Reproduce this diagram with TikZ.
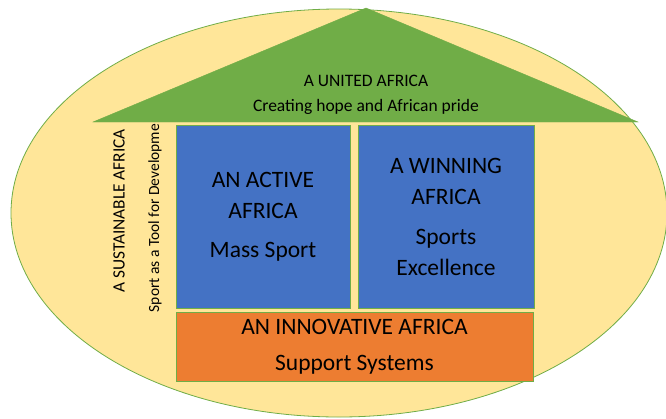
\documentclass[tikz,border=0pt]{standalone}
\usepackage{fontspec}
\setmainfont{Carlito}
\usepackage{xcolor}
\usetikzlibrary{positioning}
\definecolor{fieldyellow}{HTML}{FFE699}
\definecolor{roofgreen}{HTML}{70AD47}
\definecolor{pillarblue}{HTML}{4472C4}
\definecolor{baseorange}{HTML}{ED7D31}
\tikzstyle{field} = [draw=roofgreen, 
line width=0.8pt, 
fill=fieldyellow]
\tikzstyle{roof} = [draw=roofgreen, 
fill=roofgreen]
\tikzstyle{pillar} = [rectangle, 
minimum width=174pt, 
minimum height=183pt, 
align=center, 
draw=roofgreen, 
line width=1pt, 
fill=pillarblue, 
font=\fontsize{23.5}{31}\selectfont]
\tikzstyle{basebox} = [rectangle, 
minimum width=357pt, 
minimum height=69pt, 
align=center, 
draw=roofgreen, 
line width=1pt, 
fill=baseorange, 
font=\fontsize{23.5}{31}\selectfont]
\tikzstyle{sidetext} = [rotate=90, inner sep=0pt]

\begin{document}
\begin{tikzpicture}[x=1pt, y=-1pt]

  \useasboundingbox (0,0) rectangle (666,418);
  \draw [field] (339,213) ellipse [x radius=328, y radius=204];

  \coordinate (apex) at (366,8);
  \coordinate (eaveleft) at (93,122);
  \coordinate (eaveright) at (638,122);
  \fill [roof] (apex) -- (eaveright) -- (eaveleft) -- cycle;
  \node (united) [align=center, font=\fontsize{17.5}{25}\selectfont] at (366,95) {A UNITED AFRICA\\Creating hope and African pride};

  \node (active) [pillar] at (263,216.5) {AN ACTIVE\\AFRICA\\[8pt]Mass Sport};
  \node (winning) [pillar, minimum width=176pt, right=7pt of active] {A WINNING\\AFRICA\\[9pt]Sports\\Excellence};
  \node (innovative) [basebox, below=3pt of active.south west, anchor=north west] {AN INNOVATIVE AFRICA\\[5pt]Support Systems};

  \node (sustainable) [sidetext, font=\fontsize{17.3}{20}\selectfont] at (119,211) {A SUSTAINABLE AFRICA};
  \node (tool) [sidetext, font=\fontsize{15.5}{18}\selectfont] at (155,218) {Sport as a Tool for Developme};

\end{tikzpicture}
\end{document}
